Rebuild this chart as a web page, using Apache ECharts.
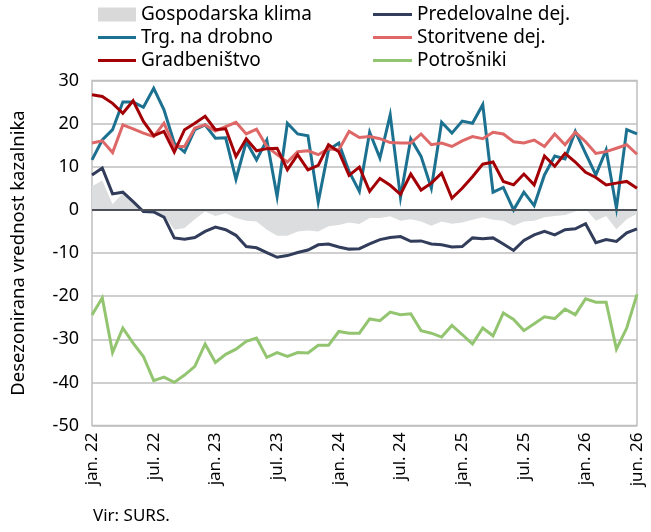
<!DOCTYPE html>
<html>
<head>
<meta charset="utf-8">
<script src="https://cdn.jsdelivr.net/npm/echarts@6/dist/echarts.min.js"></script>
<style>
html,body{margin:0;padding:0;background:#fff;}
#c{width:651px;height:532px;}
</style>
</head>
<body>
<div id="c"></div>
<script>
const monthNames = ['jan.','feb.','mar.','apr.','maj','jun.','jul.','avg.','sep.','okt.','nov.','dec.'];
const years = ['22','23','24','25','26'];
const categories = [];
for (const y of years) for (const m of monthNames) categories.push(m + ' ' + y);
categories.length = 54; // jan. 22 ... jun. 26

const klima = [5.5,6.8,1.3,3.9,1.5,0.0,-0.4,-1.2,-4.6,-4.2,-2.2,-0.4,-1.4,-0.8,-1.9,-2.5,-2.7,-4.6,-6.0,-6.0,-5.0,-4.8,-5.0,-3.8,-3.5,-2.9,-3.3,-1.9,-1.9,-1.5,-2.5,-2.2,-2.7,-3.7,-2.7,-3.2,-2.9,-2.3,-1.7,-2.3,-2.5,-3.7,-2.7,-2.5,-1.7,-1.4,-1.2,-0.4,0.2,-2.5,-1.4,-4.5,-2.2,-0.9];
const predelovalne = [8.1,9.7,3.7,4.1,1.9,-0.4,-0.5,-1.7,-6.5,-6.8,-6.4,-5.0,-4.0,-4.6,-5.9,-8.5,-8.8,-9.9,-11.0,-10.6,-9.9,-9.3,-8.1,-7.9,-8.6,-9.1,-9.0,-7.9,-6.9,-6.4,-6.2,-7.3,-7.2,-7.9,-8.1,-8.6,-8.5,-6.5,-6.7,-6.5,-7.9,-9.4,-7.1,-5.8,-5.0,-5.8,-4.6,-4.4,-3.2,-7.6,-6.9,-7.3,-5.3,-4.4];
const trgovina = [11.6,16.2,18.6,25,25,23.8,28.2,23.2,15.5,13.4,18.6,19.7,16.6,16.7,7.1,15.8,11.6,16.2,3.1,20.1,17.6,17.2,1.8,13.9,15.5,8.9,4.3,18.0,12.0,22.0,2.9,16.5,12.4,5.0,20.3,17.8,20.6,20.1,24.4,4.1,5.2,0,4.1,1.0,8.1,12.5,11.8,18.2,13.1,8.1,13.9,0.4,18.6,17.6];
const storitve = [15.5,16.0,13.3,19.7,18.8,17.8,17.0,20.1,14.7,14.7,19.0,19.7,18.3,19.3,20.3,17.6,18.7,14.7,12.8,11.1,13.5,13.7,12.8,14.2,13.9,18.2,16.8,17.0,16.5,15.6,15.5,15.5,17.6,15.1,15.5,14.7,16.0,17.0,16.5,18.0,17.6,15.8,15.5,16.2,14.7,17.6,15.1,18.0,15.8,13.1,13.5,14.3,15.1,12.9];
const gradbenistvo = [26.7,26.3,24.7,22.4,25.3,20.5,17.2,18.2,13.4,18.6,20.1,21.7,18.6,18.8,12.4,16.5,13.7,14.2,14.3,9.3,12.8,9.3,10.3,15.1,13.5,8.0,9.9,4.3,7.3,5.7,3.6,8.3,4.6,6.2,8.5,2.7,5.0,7.7,10.6,11.1,6.6,5.8,8.3,5.8,12.5,10.1,13.1,11.1,8.7,7.5,5.8,6.2,6.6,5.0];
const potrosniki = [-24.4,-20.4,-33.1,-27.4,-30.9,-34.0,-39.6,-38.8,-40.0,-38.3,-36.3,-31.1,-35.4,-33.5,-32.3,-30.5,-29.7,-34.2,-33.1,-34.0,-33.1,-33.2,-31.4,-31.4,-28.2,-28.6,-28.6,-25.3,-25.7,-23.7,-24.3,-24.1,-28.0,-28.6,-29.5,-26.8,-28.9,-31.1,-27.4,-29.2,-23.9,-25.4,-28.0,-26.4,-24.8,-25.2,-23.0,-24.3,-20.6,-21.4,-21.4,-32.3,-27.4,-19.6];

const FONT = 'Noto Sans';
const LINE_ICON = 'path://M0,0h40v3h-40z';
const chart = echarts.init(document.getElementById('c'), null, {renderer:'canvas'});

function lineSeries(name, data, color){
  return {name, type:'line', data, symbol:'none', showSymbol:false,
    lineStyle:{color, width:3, join:'miter'}, itemStyle:{color}, emphasis:{disabled:true}, animation:false};
}
const legendText = {fontFamily:FONT, fontSize:19, color:'#000', lineHeight:19};

chart.setOption({
  animation:false,
  textStyle:{fontFamily:FONT, color:'#000'},
  grid:{left:92, right:14, top:80.5, bottom:106.5, show:true, borderColor:'#BFBFBF', borderWidth:1.5, containLabel:false},
  legend:[
    {left:93, top:0, orient:'vertical', itemWidth:38, itemHeight:14, itemGap:4,
     textStyle:legendText, selectedMode:false,
     data:[{name:'Gospodarska klima', icon:'rect', itemStyle:{color:'#D9D9D9'}},
           {name:'Trg. na drobno', icon:LINE_ICON},
           {name:'Gradbeništvo', icon:LINE_ICON}]},
    {left:368, top:0, orient:'vertical', itemWidth:39, itemHeight:14, itemGap:4,
     textStyle:legendText, selectedMode:false,
     data:[{name:'Predelovalne dej.', icon:LINE_ICON},
           {name:'Storitvene dej.', icon:LINE_ICON},
           {name:'Potrošniki', icon:LINE_ICON}]}
  ],
  xAxis:{type:'category', data:categories, boundaryGap:false,
    axisLine:{show:false, onZero:false}, axisTick:{show:false}, splitLine:{show:false},
    axisLabel:{rotate:90, fontFamily:FONT, fontSize:17, color:'#000', margin:7,
      interval:(i)=> i%6===0 || i===categories.length-1}},
  yAxis:{type:'value', min:-50, max:30, interval:10,
    name:'Desezonirana vrednost kazalnika', nameLocation:'middle', nameGap:64, nameRotate:90,
    nameTextStyle:{fontFamily:FONT, fontSize:18.5, color:'#000'},
    axisLine:{show:false}, axisTick:{show:false},
    axisLabel:{fontFamily:FONT, fontSize:18, color:'#000', margin:13},
    splitLine:{lineStyle:{color:'#BFBFBF', width:1.5}}},
  series:[
    {name:'Gospodarska klima', type:'line', data:klima, symbol:'none', showSymbol:false,
     lineStyle:{width:0}, itemStyle:{color:'#D9D9D9'}, areaStyle:{color:'#DCDDDE', opacity:1},
     emphasis:{disabled:true},
     markLine:{silent:true, symbol:'none', label:{show:false}, animation:false,
       lineStyle:{color:'#4D5057', width:2.2, type:'solid'}, data:[{yAxis:0}]}},
    lineSeries('Predelovalne dej.', predelovalne, '#323D5B'),
    lineSeries('Trg. na drobno', trgovina, '#1C7190'),
    lineSeries('Storitvene dej.', storitve, '#DE6868'),
    lineSeries('Gradbeništvo', gradbenistvo, '#A30006'),
    lineSeries('Potrošniki', potrosniki, '#93C571')
  ],
  graphic:[{type:'text', left:93, top:508, style:{text:'Vir: SURS.', font:'17px "Noto Sans"', fill:'#000'}}]
});
</script>
</body>
</html>
